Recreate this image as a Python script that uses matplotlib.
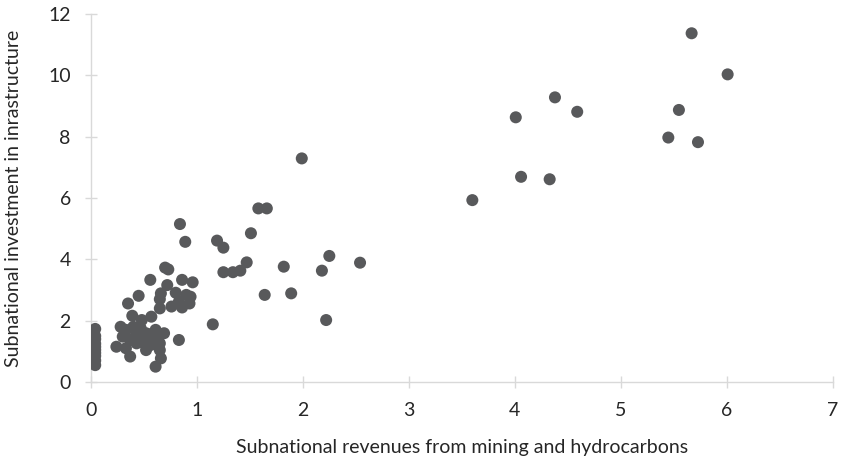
import numpy as np
import matplotlib
matplotlib.use("Agg")
import matplotlib.pyplot as plt

plt.rcParams['font.family'] = ['Lato', 'DejaVu Sans']

# revenues (x) and infrastructure investment (y) per subnational unit
revenues = [
    0.04, 0.04, 0.04, 0.04, 0.04, 0.04, 0.04, 0.04, 0.04, 0.04,
    0.24, 0.28, 0.30, 0.33, 0.33, 0.35, 0.37, 0.37, 0.39, 0.40,
    0.43, 0.44, 0.45, 0.48, 0.52, 0.51, 0.52, 0.56, 0.57, 0.58,
    0.61, 0.61, 0.65, 0.65, 0.65, 0.65, 0.66, 0.66, 0.69, 0.70,
    0.73, 0.72, 0.76, 0.80, 0.83, 0.83, 0.84, 0.86, 0.86, 0.89,
    0.90, 0.93, 0.94, 0.96, 0.42, 0.47, 0.55, 0.47, 0.56, 0.62,
    1.15, 1.19, 1.25, 1.25, 1.34, 1.41, 1.47, 1.51, 1.58, 1.66,
    1.64, 1.82, 1.89, 1.99, 2.18, 2.22, 2.25, 2.54,
    3.60, 4.01, 4.38, 4.59, 4.06, 4.33,
    5.67, 6.01, 5.55, 5.45, 5.73,
]
investment = [
    1.73, 1.50, 1.40, 1.25, 1.15, 1.05, 0.95, 0.85, 0.70, 0.55,
    1.15, 1.80, 1.48, 1.70, 1.10, 2.56, 1.37, 0.83, 2.16, 1.80,
    1.26, 1.64, 2.81, 2.02, 1.59, 1.37, 1.04, 3.33, 2.13, 1.42,
    1.70, 0.50, 1.26, 1.04, 2.70, 2.40, 2.89, 0.77, 1.59, 3.73,
    3.67, 3.16, 2.46, 2.91, 2.62, 1.37, 5.15, 3.33, 2.43, 4.57,
    2.84, 2.56, 2.78, 3.25, 1.50, 1.75, 1.55, 1.30, 1.20, 1.45,
    1.88, 4.61, 4.38, 3.58, 3.58, 3.63, 3.90, 4.85, 5.66, 5.66,
    2.84, 3.76, 2.89, 7.29, 3.63, 2.02, 4.11, 3.89,
    5.93, 8.63, 9.28, 8.81, 6.69, 6.61,
    11.37, 10.03, 8.87, 7.97, 7.82,
]

fig = plt.figure(figsize=(8.47, 4.65), dpi=100)
ax = fig.add_axes([0.1074, 0.1785, 0.8755, 0.7915])

ax.scatter(revenues, investment, s=75, color='#58595b', edgecolors='none', zorder=3)

ax.set_xlim(0, 7)
ax.set_ylim(0, 12)
ax.set_xticks(np.arange(0, 8, 1))
ax.set_yticks(np.arange(0, 13, 2))

for side in ['top', 'right']:
    ax.spines[side].set_visible(False)
for side in ['left', 'bottom']:
    ax.spines[side].set_color('#d9d9d9')
    ax.spines[side].set_linewidth(1.0)

ax.tick_params(axis='both', direction='inout', length=9, width=1.0,
               color='#d9d9d9', labelsize=14, labelcolor='#262626')
ax.tick_params(axis='x', pad=10)
ax.tick_params(axis='y', pad=10)

ax.set_xlabel('Subnational revenues from mining and hydrocarbons',
              fontsize=14, color='#262626', labelpad=14)
ax.set_ylabel('Subnational investment in inrastructure',
              fontsize=14, color='#262626', labelpad=19)

fig.savefig('out.png', dpi=100)
